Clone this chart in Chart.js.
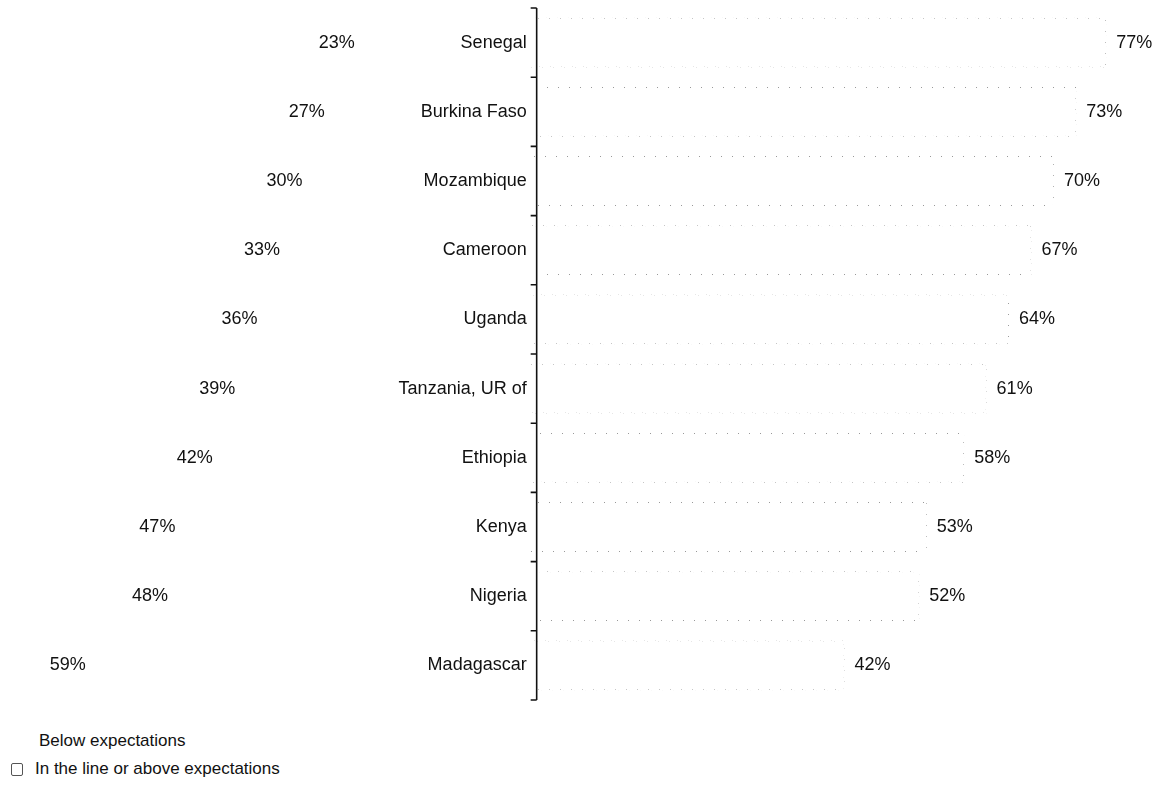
<!DOCTYPE html>
<html>
<head>
<meta charset="utf-8">
<script src="https://cdn.jsdelivr.net/npm/chart.js@4.4.1/dist/chart.umd.min.js"></script>
<style>
    body { margin: 0; background: #fff; font-family: 'Liberation Sans', Arial, sans-serif; color: #111; }
    .wrap { position: relative; width: 1163px; height: 786px; }
    .chart-box { position: absolute; left: 0; top: 0; width: 1163px; height: 715px; }
    .legend-item { position: absolute; font-size: 17px; line-height: 20px; white-space: nowrap; }
    .legend-box { position: absolute; width: 10px; height: 11px; border: 1px solid #555; border-radius: 2px; background: #fff; }
</style>
</head>
<body>
<div class="wrap">
    <div class="chart-box"><canvas id="chart"></canvas></div>
    <div class="legend-item" style="left:39px; top:731px;">Below expectations</div>
    <span class="legend-box" style="left:11px; top:763px;"></span>
    <div class="legend-item" style="left:35px; top:759px;">In the line or above expectations</div>
</div>

<script>
// Data (percent of respondents)
const countries = ['Senegal', 'Burkina Faso', 'Mozambique', 'Cameroon', 'Uganda',
    'Tanzania, UR of', 'Ethiopia', 'Kenya', 'Nigeria', 'Madagascar'];
const belowExpectations = [23, 27, 30, 33, 36, 39, 42, 47, 48, 59];
const aboveExpectations = [77, 73, 70, 67, 64, 61, 58, 53, 52, 42];

const labelFont = "18px 'Liberation Sans', Arial, sans-serif";

// faint, sparse dotted outline, like the scanned bar edges
function dottedPattern() {
    const n = 11;
    const c = document.createElement('canvas');
    c.width = n;
    c.height = n;
    const g = c.getContext('2d');
    g.fillStyle = 'rgba(0, 0, 0, 0.4)';
    for (let i = 0; i < n; i++) {
        g.fillRect(i, (4 * i) % n, 1, 1);
    }
    return g.createPattern(c, 'repeat');
}

// Axis, country names and percentage labels
const annotate = {
    id: 'annotate',
    afterDatasetsDraw(chart) {
        const ctx = chart.ctx;
        const x = chart.scales.x;
        const y = chart.scales.y;
        const slot = y.getPixelForValue(1) - y.getPixelForValue(0);
        // printed axis sits a few px right of where the bars start
        const axisX = x.getPixelForValue(0) + 6;
        const top = y.getPixelForValue(0) - slot / 2;
        const bottom = y.getPixelForValue(countries.length - 1) + slot / 2;

        ctx.save();
        ctx.strokeStyle = '#111';
        ctx.lineWidth = 1.6;
        ctx.beginPath();
        ctx.moveTo(axisX, top);
        ctx.lineTo(axisX, bottom);
        for (let k = 0; k <= countries.length; k++) {
            const ty = top + k * slot;
            ctx.moveTo(axisX - 6, ty);
            ctx.lineTo(axisX, ty);
        }
        ctx.stroke();

        ctx.fillStyle = '#111';
        ctx.font = labelFont;
        ctx.textBaseline = 'middle';

        ctx.textAlign = 'right';
        countries.forEach((name, i) => {
            ctx.fillText(name, axisX - 10, y.getPixelForValue(i));
        });

        const belowMeta = chart.getDatasetMeta(0);
        belowMeta.data.forEach((bar, i) => {
            ctx.fillText(belowExpectations[i] + '%', bar.x - 4, bar.y);
        });

        ctx.textAlign = 'left';
        const aboveMeta = chart.getDatasetMeta(1);
        aboveMeta.data.forEach((bar, i) => {
            ctx.fillText(aboveExpectations[i] + '%', bar.x + 10, bar.y);
        });
        ctx.restore();
    }
};

const chart = new Chart(document.getElementById('chart'), {
    type: 'bar',
    data: {
        labels: countries,
        datasets: [{
            label: 'Below expectations',
            data: belowExpectations.map(v => -v),
            backgroundColor: 'rgba(255, 255, 255, 0)',
            borderWidth: 0,
            barPercentage: 0.72,
            categoryPercentage: 1
        }, {
            label: 'In the line or above expectations',
            data: aboveExpectations,
            backgroundColor: '#fff',
            borderColor: dottedPattern(),
            borderWidth: 1,
            barPercentage: 0.72,
            categoryPercentage: 1
        }]
    },
    options: {
        indexAxis: 'y',
        responsive: true,
        maintainAspectRatio: false,
        animation: false,
        layout: {
            padding: { top: 8, bottom: 15, left: 0, right: 0 }
        },
        scales: {
            x: {
                stacked: true,
                min: -71,
                max: 84.6,
                display: false
            },
            y: {
                stacked: true,
                display: false
            }
        },
        plugins: {
            legend: { display: false },
            tooltip: { enabled: false }
        }
    },
    plugins: [annotate]
});
</script>
</body>
</html>
